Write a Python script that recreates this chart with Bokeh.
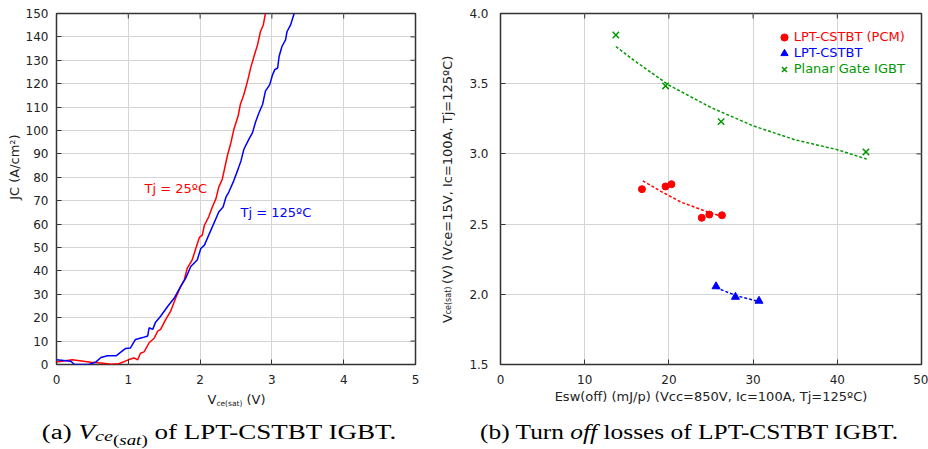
import math
from bokeh.plotting import figure
from bokeh.models import (Range1d, FixedTicker, LinearAxis, Label, Legend,
                          LegendItem, Div, PrintfTickFormatter)
from bokeh.layouts import row, column
from bokeh.embed import file_html
from bokeh.resources import INLINE

# ---------------- data: (a) Vce(sat) curves ----------------
vce_25 = [0.00, 0.22, 0.48, 0.62, 0.76, 0.87, 1.00, 1.08, 1.13, 1.17, 1.22, 1.29,
          1.36, 1.41, 1.45, 1.52, 1.59, 1.66, 1.73, 1.78, 1.82, 1.89, 1.94, 1.99,
          2.03, 2.06, 2.12, 2.17, 2.22, 2.26, 2.31, 2.34, 2.38, 2.43, 2.47, 2.53,
          2.56, 2.61, 2.66, 2.71, 2.75, 2.80, 2.84, 2.88, 2.91]
jc_25 = [1.1, 2.0, 1.0, 0.6, 0.1, 0.3, 2.0, 2.8, 2.0, 4.8, 5.4, 9.3,
         11.2, 14.3, 15.0, 19.2, 22.8, 28.4, 33.4, 36.2, 41.1, 44.7, 49.6, 54.3,
         55.3, 59.5, 63.1, 67.3, 70.8, 75.8, 79.3, 83.6, 89.2, 94.9, 100.5, 106.2,
         111.1, 115.4, 121.0, 127.4, 131.6, 136.6, 142.2, 145.1, 150.0]

vce_125 = [0.00, 0.20, 0.25, 0.45, 0.55, 0.62, 0.71, 0.83, 0.90, 0.96, 1.03, 1.10,
           1.20, 1.27, 1.29, 1.34, 1.38, 1.45, 1.55, 1.64, 1.73, 1.80, 1.87, 1.96,
           2.01, 2.06, 2.12, 2.19, 2.26, 2.32, 2.36, 2.40, 2.47, 2.53, 2.57, 2.61,
           2.68, 2.73, 2.77, 2.82, 2.87, 2.91, 2.97, 3.01, 3.04, 3.08, 3.10, 3.14,
           3.19, 3.21, 3.26, 3.31]
jc_125 = [2.0, 1.4, 0.0, 0.0, 1.1, 3.0, 3.7, 3.7, 5.4, 6.8, 7.1, 10.7,
          11.5, 12.2, 15.7, 15.0, 18.1, 20.6, 24.9, 28.4, 33.4, 36.9, 41.9, 44.7,
          49.6, 51.0, 55.3, 60.2, 65.2, 67.3, 71.5, 73.7, 78.6, 83.6, 87.1, 92.0,
          96.3, 99.1, 103.4, 107.6, 111.1, 116.8, 119.6, 123.9, 126.0, 126.7, 131.6, 135.9,
          138.7, 142.2, 145.1, 150.0]

a_xticks = [0, 1, 2, 3, 4, 5]
a_yticks = list(range(0, 151, 10))

# ---------------- data: (b) turn-off losses ----------------
pcm_esw = [16.8, 19.6, 20.3, 23.9, 24.8, 26.3]
pcm_vce = [2.749, 2.768, 2.784, 2.545, 2.568, 2.563]
pcm_fit_esw = [16.9, 19.0, 21.5, 24.0, 26.2]
pcm_fit_vce = [2.808, 2.735, 2.655, 2.600, 2.556]

cstbt_esw = [25.6, 27.9, 30.7]
cstbt_vce = [2.056, 1.981, 1.953]
cstbt_fit_esw = [25.6, 28.2, 30.9]
cstbt_fit_vce = [2.047, 1.986, 1.946]

planar_esw = [13.7, 19.6, 26.2, 43.4]
planar_vce = [3.847, 3.484, 3.230, 3.014]
planar_fit_esw = [13.7, 16.0, 20.0, 25.0, 30.0, 35.0, 40.0, 43.5]
planar_fit_vce = [3.765, 3.660, 3.490, 3.330, 3.200, 3.100, 3.030, 2.963]

b_xticks = [0, 10, 20, 30, 40, 50]
b_yticks = [1.5, 2.0, 2.5, 3.0, 3.5, 4.0]

RED, BLUE, GREEN = "#ff0000", "#0000ff", "#009900"
FONT = "DejaVu Sans"
DARK = "#222222"

# ---------------- layout geometry (page pixels, page has no margin) ----------------
LW, LH = 437, 410
L_LEFT, L_RIGHT, L_TOP, L_BOT = 56, 22, 12, 45
RW, RH = 491, 410
R_LEFT, R_RIGHT, R_TOP, R_BOT = 61, 7, 13, 42

LF = dict(x0=L_LEFT, x1=LW - L_RIGHT, y0=L_TOP, y1=LH - L_BOT)
RF = dict(x0=LW + R_LEFT, x1=LW + RW - R_RIGHT, y0=R_TOP, y1=RH - R_BOT)


def lx(px):
    return (px - LF["x0"]) / (LF["x1"] - LF["x0"]) * 5.0


def ly(py):
    return (LF["y1"] - py) / (LF["y1"] - LF["y0"]) * 150.0


def rx(px):
    return (px - RF["x0"]) / (RF["x1"] - RF["x0"]) * 50.0


def ry(py):
    return 1.5 + (RF["y1"] - py) / (RF["y1"] - RF["y0"]) * 2.5


def style(p, xt, yt, x_std, y_std, xmax, ymax):
    p.outline_line_color = "#333333"
    p.outline_line_width = 1.5
    for ax in p.xaxis + p.yaxis:
        ax.axis_line_color = None
        ax.major_tick_in = 5
        ax.major_tick_out = 0
        ax.minor_tick_in = 0
        ax.minor_tick_out = 0
        ax.major_tick_line_color = "#333333"
        ax.major_label_text_font = FONT
        ax.major_label_text_font_size = "12px"
        ax.major_label_text_color = DARK
    p.xaxis.ticker = FixedTicker(ticks=xt)
    p.yaxis.ticker = FixedTicker(ticks=yt)
    p.xaxis.major_label_standoff = x_std
    p.yaxis.major_label_standoff = y_std
    # mirrored inward ticks on the top and right edges
    p.ray(x=xt, y=[ymax] * len(xt), length=5, length_units="screen",
          angle=-math.pi / 2, line_color="#333333", line_width=1)
    p.ray(x=[xmax] * len(yt), y=yt, length=5, length_units="screen",
          angle=math.pi, line_color="#333333", line_width=1)
    p.xgrid.ticker = FixedTicker(ticks=xt)
    p.ygrid.ticker = FixedTicker(ticks=yt)
    p.grid.grid_line_color = "#d4d4d4"
    p.grid.grid_line_width = 1
    p.background_fill_color = "white"
    p.border_fill_color = "white"


def text_axis(p, side, labels, size, standoff, orientation="horizontal"):
    """An extra, tick-less axis used only to draw axis-title text pieces."""
    ax = LinearAxis(ticker=FixedTicker(ticks=list(labels.keys())),
                    major_label_overrides=labels,
                    axis_line_color=None, major_tick_in=0, major_tick_out=0,
                    minor_tick_in=0, minor_tick_out=0,
                    major_label_standoff=standoff,
                    major_label_text_font=FONT, major_label_text_font_size=size,
                    major_label_text_color=DARK,
                    major_label_orientation=orientation)
    p.add_layout(ax, side)


def lab(p, x, y, text, color):
    p.add_layout(Label(x=x, y=y, text=text, text_font=FONT, text_font_size="13px",
                       text_color=color, text_align="left", text_baseline="middle"))


# ---------------- figure (a) ----------------
pa = figure(width=LW, height=LH, x_range=Range1d(0, 5), y_range=Range1d(0, 150),
            output_backend="svg", toolbar_location=None,
            min_border_left=L_LEFT, min_border_right=L_RIGHT,
            min_border_top=L_TOP, min_border_bottom=L_BOT)
style(pa, a_xticks, a_yticks, 10, 8, 5, 150)
pa.line(vce_25, jc_25, line_color=RED, line_width=1.5)
pa.line(vce_125, jc_125, line_color=BLUE, line_width=1.5)
lab(pa, lx(144), ly(188.3), "Tj = 25ºC", RED)
lab(pa, lx(240), ly(211.7), "Tj = 125ºC", BLUE)

text_axis(pa, "left", {ly(166.5): "JC (A/cm²)"}, "13px", 0, "vertical")
text_axis(pa, "below", {lx(211.5): "V", lx(255.5): "(V)"}, "13px", 5)
text_axis(pa, "below", {lx(228.9): "ce(sat)"}, "7.5px", -11)

# ---------------- figure (b) ----------------
pb = figure(width=RW, height=RH, x_range=Range1d(0, 50), y_range=Range1d(1.5, 4.0),
            output_backend="svg", toolbar_location=None,
            min_border_left=R_LEFT, min_border_right=R_RIGHT,
            min_border_top=R_TOP, min_border_bottom=R_BOT)
style(pb, b_xticks, b_yticks, 10, 12, 50, 4.0)
pb.yaxis[0].formatter = PrintfTickFormatter(format="%.1f")
pb.xaxis.axis_label = "Esw(off) (mJ/p) (Vcc=850V, Ic=100A, Tj=125ºC)"
pb.xaxis.axis_label_text_font = FONT
pb.xaxis.axis_label_text_font_size = "13px"
pb.xaxis.axis_label_text_font_style = "normal"
pb.xaxis.axis_label_text_color = DARK
pb.xaxis.axis_label_standoff = 2

pb.line(planar_fit_esw, planar_fit_vce, line_color=GREEN, line_width=1.5, line_dash="3 2")
pb.line(pcm_fit_esw, pcm_fit_vce, line_color=RED, line_width=1.5, line_dash="3 2")
pb.line(cstbt_fit_esw, cstbt_fit_vce, line_color=BLUE, line_width=1.5, line_dash="3 2")
r_pcm = pb.scatter(pcm_esw, pcm_vce, marker="circle", size=7, color=RED)
r_cst = pb.scatter(cstbt_esw, cstbt_vce, marker="triangle", size=8, color=BLUE)
r_pla = pb.scatter(planar_esw, planar_vce, marker="x", size=9, line_color=GREEN, line_width=1.5)

for i, (name, rend, col) in enumerate((("LPT-CSTBT (PCM)", r_pcm, RED),
                                       ("LPT-CSTBT", r_cst, BLUE),
                                       ("Planar Gate IGBT", r_pla, GREEN))):
    cy = 40.7 + 16 * i
    leg = Legend(items=[LegendItem(label=name, renderers=[rend])],
                 location=(781.7 - RF["x0"] - 9, RF["y1"] - cy - 9),
                 background_fill_alpha=0, border_line_color=None,
                 padding=0, margin=0, spacing=0,
                 glyph_width=18, glyph_height=18, label_height=18,
                 label_standoff=1, label_text_font=FONT,
                 label_text_font_size="13px", label_text_color=col)
    pb.add_layout(leg)

text_axis(pb, "left", {ry(321.6): "V", ry(171.1): "(V) (Vce=15V, Ic=100A, Tj=125ºC)"},
          "13px", 11, "vertical")
text_axis(pb, "left", {ry(303.2): "ce(sat)"}, "8px", -16, "vertical")

# ---------------- captions ----------------
cap = """
<div style="position:relative;width:928px;height:39px;font-family:'Liberation Serif',serif;font-size:20px;color:#000;">
 <span style="position:absolute;left:214px;top:7px;line-height:20px;white-space:nowrap;display:inline-block;transform:translateX(-50%) scaleX(1.35);">(a) <i>V</i><span style="position:relative;top:2px;font-size:15px;"><i>ce</i><span style="position:relative;top:4px;font-size:14px;">(<i>sat</i>)</span></span> of LPT-CSTBT IGBT.</span>
 <span style="position:absolute;left:684px;top:7px;line-height:20px;white-space:nowrap;display:inline-block;transform:translateX(-50%) scaleX(1.27);">(b) Turn <i>off</i> losses of LPT-CSTBT IGBT.</span>
</div>
"""
div = Div(text=cap, width=928, height=39)

layout = column(row(pa, pb), div)
open("out.html", "w").write(file_html(layout, INLINE))
